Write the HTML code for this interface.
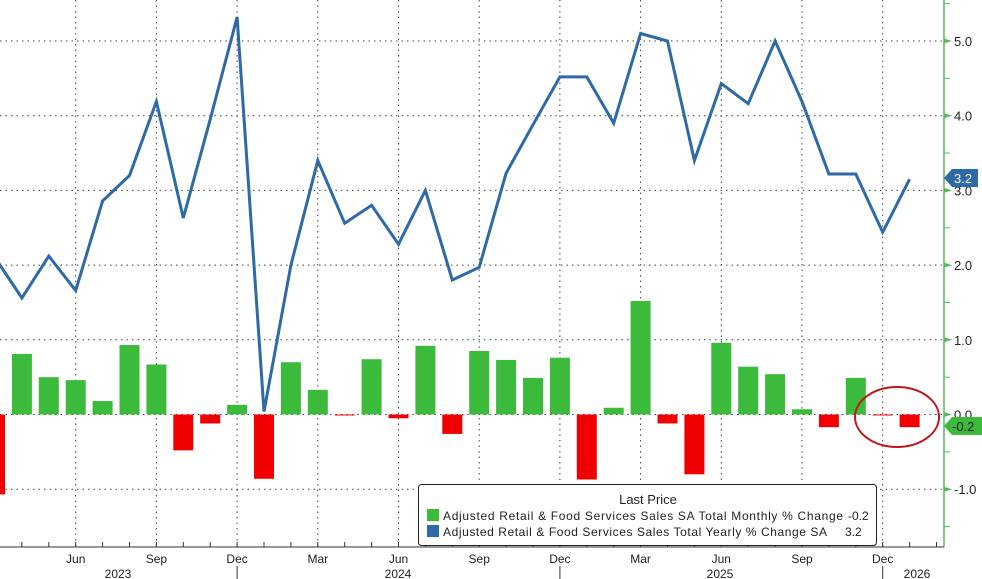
<!DOCTYPE html>
<html><head><meta charset="utf-8"><style>
html,body{margin:0;padding:0;background:#fff;}
svg{display:block;font-family:"Liberation Sans",sans-serif;}
</style></head><body>
<svg id="c" width="982" height="579" viewBox="0 0 982 579" xmlns="http://www.w3.org/2000/svg"></svg>
<script>
const s=document.getElementById('c');
const X0=-5,DX=26.9,Y0=414.5,DY=74.7;
const x=i=>X0+i*DX, y=v=>Y0-v*DY;
let h='';
[5,4,3,2,1,0,-1].forEach(v=>{h+=`<line x1="0" x2="944" y1="${y(v)}" y2="${y(v)}" stroke="#444" stroke-width="1" stroke-dasharray="1.5,4"/>`;});
[3,6,9,12,15,18,21,24,27,30,33].forEach(i=>{h+=`<line x1="${x(i)}" x2="${x(i)}" y1="0" y2="547" stroke="#444" stroke-width="1" stroke-dasharray="1.5,4"/>`;});
const bars=[-1.07,0.81,0.5,0.46,0.18,0.93,0.67,-0.48,-0.12,0.13,-0.86,0.7,0.33,-0.01,0.74,-0.05,0.92,-0.26,0.85,0.73,0.49,0.76,-0.87,0.09,1.52,-0.12,-0.8,0.96,0.64,0.54,0.07,-0.17,0.49,-0.01,-0.17];
bars.forEach((v,i)=>{const cx=x(i);const t=v>=0?y(v):Y0;const hh=Math.max(Math.abs(v)*DY,1);
h+=`<rect x="${cx-10}" y="${t}" width="20" height="${hh}" fill="${v>=0?'#3cba3c':'#f00000'}"/>`;});
const line=[2.1,1.56,2.12,1.66,2.86,3.2,4.19,2.63,3.95,5.32,0.04,2.0,3.4,2.56,2.8,2.28,3.0,1.8,1.97,3.23,3.88,4.52,4.52,3.9,5.1,5.0,3.4,4.43,4.16,5.0,4.19,3.22,3.22,2.44,3.15];
h+=`<polyline fill="none" stroke="#2e6aa6" stroke-width="3" stroke-linejoin="miter" points="${line.map((v,i)=>x(i).toFixed(1)+','+y(v).toFixed(1)).join(' ')}"/>`;
h+=`<line x1="944" x2="944" y1="0" y2="547" stroke="#5cb85c" stroke-width="1.5"/>`;
for(let v=-1.5;v<=5.5;v+=0.5){const yy=y(v);
 if(Math.abs(v-Math.round(v))<0.01){h+=`<path d="M944 ${yy-2.5} L952 ${yy} L944 ${yy+2.5}Z" fill="#5cb85c"/><text x="954" y="${yy+5}" font-size="13" fill="#222">${v.toFixed(1)}</text>`;}
 else h+=`<line x1="944" x2="950" y1="${yy}" y2="${yy}" stroke="#5cb85c"/>`;}
h+=`<path d="M944 178 L952 169 L978 169 L978 187 L952 187Z" fill="#2e6aa6"/><text x="954" y="183" font-size="13" fill="#fff">3.2</text>`;
h+=`<path d="M944 426 L952 417 L982 417 L982 435 L952 435Z" fill="#3cba3c"/><text x="952" y="431" font-size="13" fill="#222">-0.2</text>`;
h+=`<line x1="0" x2="944" y1="547" y2="547" stroke="#333" stroke-width="1"/>`;
for(let i=0;i<36;i++){h+=`<line x1="${x(i)}" x2="${x(i)}" y1="542" y2="547" stroke="#333"/>`;}
const ml=['Jun','Sep','Dec','Mar','Jun','Sep','Dec','Mar','Jun','Sep','Dec'];
[3,6,9,12,15,18,21,24,27,30,33].forEach((i,k)=>{h+=`<text x="${x(i)}" y="563" font-size="12" text-anchor="middle" fill="#222">${ml[k]}</text>`;});
[9,21,33].forEach(i=>{h+=`<line x1="${x(i)}" x2="${x(i)}" y1="566" y2="579" stroke="#333"/>`;});
h+=`<text x="118" y="578" font-size="12" text-anchor="middle" fill="#222">2023</text><text x="398" y="578" font-size="12" text-anchor="middle" fill="#222">2024</text><text x="720" y="578" font-size="12" text-anchor="middle" fill="#222">2025</text><text x="917" y="578" font-size="12" text-anchor="middle" fill="#222">2026</text>`;
h+=`<ellipse cx="897" cy="417" rx="42" ry="30" fill="none" stroke="#c0161b" stroke-width="2"/>`;
h+=`<rect x="418.5" y="484.5" width="458" height="61" rx="3" fill="#fff" stroke="#222"/>`;
h+=`<text x="648" y="504" font-size="13" text-anchor="middle" fill="#222">Last Price</text>`;
h+=`<rect x="427" y="509" width="12" height="12" fill="#3cba3c"/><text x="443" y="520" font-size="12" fill="#222" textLength="400">Adjusted Retail &amp; Food Services Sales SA Total Monthly % Change</text><text x="848" y="520" font-size="12" fill="#222">-0.2</text>`;
h+=`<rect x="427" y="525" width="12" height="12" fill="#2e6aa6"/><text x="443" y="536" font-size="12" fill="#222" textLength="384">Adjusted Retail &amp; Food Services Sales Total Yearly % Change SA</text><text x="845" y="536" font-size="12" fill="#222">3.2</text>`;
s.innerHTML=h;
</script>
</body></html>
